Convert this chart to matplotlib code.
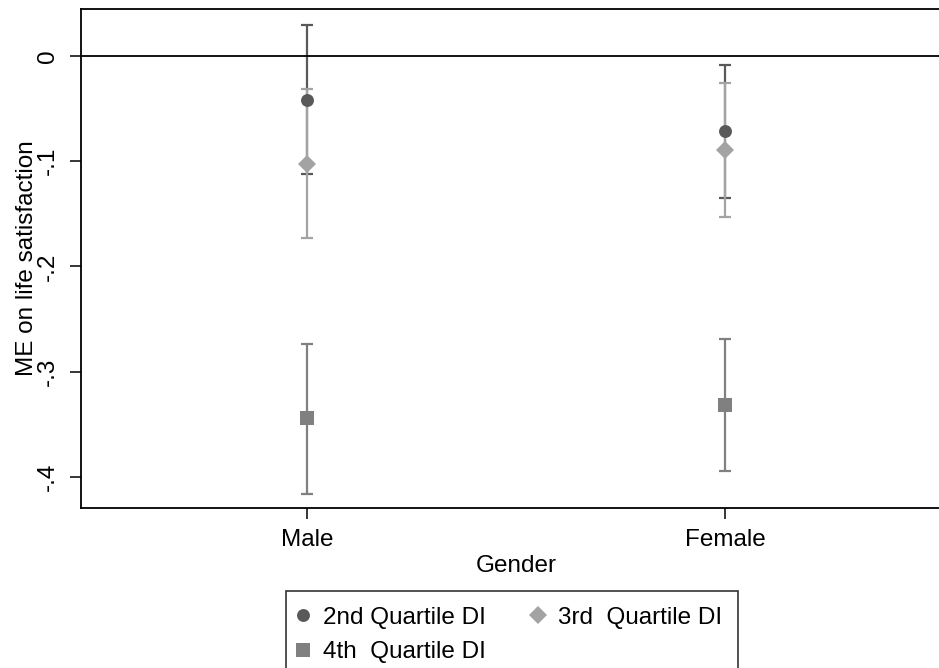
import numpy as np
import matplotlib.pyplot as plt

plt.rcParams['font.family'] = ['Liberation Sans', 'DejaVu Sans']

genders = ['Male', 'Female']
xpos = np.array([1, 2])

# marginal effects with 95% CI bounds, per income quartile
q2_me = [-0.042, -0.071]
q2_lo = [-0.112, -0.1345]
q2_hi = [0.029, -0.0085]

q3_me = [-0.1026, -0.0893]
q3_lo = [-0.173, -0.1526]
q3_hi = [-0.0316, -0.026]

q4_me = [-0.344, -0.3314]
q4_lo = [-0.416, -0.3947]
q4_hi = [-0.2738, -0.2685]

series = [
    ('2nd Quartile DI', q2_me, q2_lo, q2_hi, '#595959', '#595959', 'o', 9.3),
    ('3rd  Quartile DI', q3_me, q3_lo, q3_hi, '#a3a3a3', '#a3a3a3', 'D', 8.8),
    ('4th  Quartile DI', q4_me, q4_lo, q4_hi, '#808080', '#808080', 's', 9.5),
]

fs = 17.5

fig = plt.figure(figsize=(9.39, 6.68), dpi=100)
ax = fig.add_axes([81 / 939, 160 / 668, 870 / 939, 499 / 668])

handles = {}
for i, (name, me, lo, hi, lc, mc, mk, ms) in enumerate(series):
    me = np.array(me)
    lo = np.array(lo)
    hi = np.array(hi)
    ax.errorbar(xpos, me, yerr=[me - lo, hi - me], fmt='none', ecolor=lc,
                elinewidth=1.6, capsize=4.5, capthick=1.6, zorder=2 + i)
    h, = ax.plot(xpos, me, linestyle='none', marker=mk, markersize=ms,
                 color=mc, markeredgewidth=0, zorder=6 + i)
    handles[name] = h

ax.axhline(0, color='black', linewidth=1.3, zorder=5)

ax.set_xlim(1 - 226 / 418, 2 + 226 / 418)
ax.set_ylim(-0.4 - 31 / 1053, 47 / 1053)
ax.set_xticks(xpos)
ax.set_xticklabels(genders)
ax.set_yticks([0, -0.1, -0.2, -0.3, -0.4])
ax.set_yticklabels(['0', '-.1', '-.2', '-.3', '-.4'], rotation=90, va='center')

for s in ax.spines.values():
    s.set_linewidth(1.3)
    s.set_color('black')

ax.tick_params(axis='both', labelsize=fs, length=8, width=1.1, colors='black')
ax.tick_params(axis='y', pad=8)
ax.tick_params(axis='x', pad=7)
ax.set_xlabel('Gender', fontsize=fs, labelpad=3)
ax.set_ylabel('ME on life satisfaction', fontsize=fs, labelpad=-1)

order = ['2nd Quartile DI', '4th  Quartile DI', '3rd  Quartile DI']
leg = fig.legend([handles[k] for k in order], order, ncol=2,
                 loc='upper left', bbox_to_anchor=(286 / 939, 1 - 591 / 668),
                 borderaxespad=0, fontsize=fs, frameon=True, fancybox=False,
                 edgecolor='black', handlelength=0.1, handletextpad=0.77,
                 columnspacing=2.1, borderpad=0.65, labelspacing=0.52)
leg.get_frame().set_linewidth(1.2)

fig.savefig('out.png', dpi=100)
